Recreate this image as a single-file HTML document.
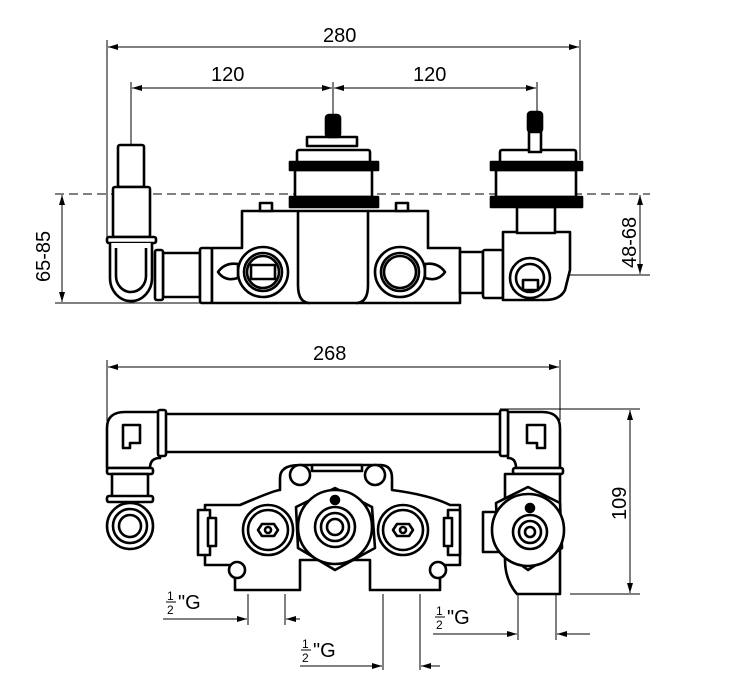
<!DOCTYPE html>
<html><head><meta charset="utf-8"><style>
html,body{margin:0;padding:0;background:#fff;}
svg{display:block;}
text{font-family:"Liberation Sans",sans-serif;fill:#000;}
</style></head><body>
<svg width="729" height="696" viewBox="0 0 729 696" xmlns="http://www.w3.org/2000/svg">
<defs>
<marker id="a" viewBox="0 0 10 6" refX="10" refY="3" markerWidth="10" markerHeight="6" orient="auto-start-reverse"><path d="M0,0L10,3L0,6z" fill="#000"/></marker>
</defs>
<g stroke="#000" stroke-width="1" fill="none">
<line x1="107" y1="40" x2="107" y2="240"/><line x1="580" y1="40" x2="580" y2="160"/>
<line x1="108" y1="47" x2="579" y2="47" marker-start="url(#a)" marker-end="url(#a)"/>
<line x1="131" y1="82" x2="131" y2="150"/><line x1="333" y1="82" x2="333" y2="118"/><line x1="537" y1="82" x2="537" y2="115"/>
<line x1="132" y1="88" x2="332" y2="88" marker-start="url(#a)" marker-end="url(#a)"/>
<line x1="334" y1="88" x2="536" y2="88" marker-start="url(#a)" marker-end="url(#a)"/>
<line x1="55" y1="194" x2="650" y2="194" stroke-dasharray="9,5"/>
<line x1="55" y1="303" x2="200" y2="303"/>
<line x1="62" y1="195" x2="62" y2="302" marker-start="url(#a)" marker-end="url(#a)"/>
<line x1="570" y1="275" x2="650" y2="275"/>
<line x1="640" y1="195" x2="640" y2="274" marker-start="url(#a)" marker-end="url(#a)"/>
<line x1="107" y1="360" x2="107" y2="440"/><line x1="560" y1="360" x2="560" y2="420"/>
<line x1="108" y1="367" x2="559" y2="367" marker-start="url(#a)" marker-end="url(#a)"/>
<line x1="500" y1="409" x2="640" y2="409"/><line x1="570" y1="594" x2="640" y2="594"/>
<line x1="630" y1="410" x2="630" y2="593" marker-start="url(#a)" marker-end="url(#a)"/>
<line x1="248" y1="594" x2="248" y2="625"/><line x1="285" y1="594" x2="285" y2="625"/>
<line x1="163" y1="619" x2="247" y2="619" marker-end="url(#a)"/><line x1="300" y1="619" x2="286" y2="619" marker-end="url(#a)"/>
<line x1="383" y1="594" x2="383" y2="670"/><line x1="420" y1="594" x2="420" y2="670"/>
<line x1="300" y1="666" x2="382" y2="666" marker-end="url(#a)"/><line x1="440" y1="666" x2="421" y2="666" marker-end="url(#a)"/>
<line x1="518" y1="594" x2="518" y2="640"/><line x1="556" y1="594" x2="556" y2="640"/>
<line x1="433" y1="634" x2="517" y2="634" marker-end="url(#a)"/><line x1="590" y1="634" x2="557" y2="634" marker-end="url(#a)"/>
</g>
<g font-size="20">
<text x="323" y="42">280</text><text x="211" y="81">120</text><text x="413" y="81">120</text>
<text x="313" y="360">268</text>
<text transform="translate(50,282) rotate(-90)">65-85</text>
<text transform="translate(636,268) rotate(-90)">48-68</text>
<text transform="translate(626,520) rotate(-90)">109</text>
<text x="178" y="609">"G</text><text x="313" y="657">"G</text><text x="447" y="624">"G</text>
</g>
<g font-size="12">
<text x="167" y="600">1</text><text x="167" y="614">2</text>
<text x="302" y="648">1</text><text x="302" y="662">2</text>
<text x="436" y="615">1</text><text x="436" y="629">2</text>
</g>
<g stroke="#000" stroke-width="1" fill="none">
<line x1="166" y1="602" x2="176" y2="602"/><line x1="301" y1="650" x2="311" y2="650"/><line x1="435" y1="617" x2="445" y2="617"/>
</g>
<g stroke="#000" stroke-width="2.6" fill="#fff" stroke-linejoin="round">
<rect x="118" y="145" width="26" height="42" rx="2"/>
<rect x="113" y="187" width="37" height="50" rx="2"/>
<rect x="107" y="237" width="49" height="6" rx="2"/>
<path d="M110,243 L110,278 A20,22 0 0 0 152,278 L152,243"/>
<path d="M116,248 L116,276 A15,16 0 0 0 146,276 L146,248"/>
<rect x="163" y="253" width="37" height="44"/>
<rect x="155" y="250" width="8" height="50" rx="2"/>
<rect x="200" y="248" width="12" height="55" rx="2"/>
<path d="M212,248 L242,248 L242,211 L428,211 L428,248 L460,248 L460,303 L212,303 Z"/>
<path d="M298,211 L298,285 Q298,303 310,303 M368,211 L368,285 Q368,303 356,303"/>
<rect x="260" y="203" width="12" height="8"/><rect x="396" y="203" width="12" height="8"/>
<circle cx="263" cy="272" r="25"/><circle cx="263" cy="272" r="19"/><circle cx="263" cy="272" r="16"/>
<rect x="251" y="265" width="24" height="14" fill="none"/>
<circle cx="400" cy="272" r="25"/><circle cx="400" cy="272" r="19"/><circle cx="400" cy="272" r="16"/>
<path d="M218,272 Q225,262 238,264 L238,278 Q225,282 218,272Z"/>
<path d="M445,272 Q438,262 425,264 L425,278 Q438,282 445,272Z"/>
<rect x="297" y="150" width="73" height="13" rx="2"/>
<rect x="295" y="170" width="77" height="27"/>
<rect x="307" y="137" width="50" height="9"/>
<rect x="326" y="115" width="14" height="22" rx="3" fill="#000"/>
<rect x="290" y="162" width="88" height="8" fill="#000"/>
<rect x="290" y="197" width="88" height="10" fill="#000"/>
<rect x="460" y="252" width="23" height="41"/>
<rect x="483" y="250" width="20" height="48" rx="2"/>
<path d="M503,232 L570,232 L570,270 L565,290 Q560,300 545,300 L503,300 Z"/>
<rect x="517" y="207" width="38" height="26"/>
<circle cx="530" cy="278" r="20"/><circle cx="530" cy="278" r="14"/>
<rect x="523" y="280" width="15" height="10"/>
<rect x="500" y="150" width="76" height="13" rx="2"/>
<rect x="496" y="170" width="80" height="27"/>
<rect x="529" y="130" width="12" height="22"/>
<rect x="528" y="112" width="14" height="20" rx="3" fill="#000"/>
<rect x="491" y="162" width="91" height="8" fill="#000"/>
<rect x="491" y="197" width="91" height="10" fill="#000"/>
</g>
<g stroke="#000" stroke-width="2.6" fill="#fff" stroke-linejoin="round">
<rect x="165" y="414" width="340" height="38"/>
<path d="M107,468 L107,428 Q107,412 125,412 L160,412 L160,458 Q150,458 150,468 Z"/>
<rect x="158" y="410" width="8" height="46" rx="2"/>
<path d="M123,425 L140,425 L140,443 L130,443 L130,448 L123,448 Z"/>
<rect x="107" y="468" width="46" height="6" rx="2"/>
<rect x="112" y="474" width="36" height="23"/>
<rect x="107" y="496" width="46" height="6" rx="2"/>
<circle cx="130" cy="526" r="23"/><circle cx="130" cy="526" r="17"/><circle cx="130" cy="526" r="11"/>
<path d="M560,468 L560,428 Q560,412 542,412 L508,412 L508,458 Q516,458 516,468 Z"/>
<rect x="500" y="410" width="8" height="46" rx="2"/>
<path d="M527,425 L545,425 L545,448 L537,448 L537,443 L527,443 Z"/>
<rect x="513" y="468" width="50" height="6" rx="2"/>
<path d="M505,474 L560,474 L560,594 L517,594 Q505,580 505,560 Z"/>
<rect x="483" y="512" width="24" height="40"/>
<path d="M205,505 L240,505 Q275,490 280,490 L280,478 Q280,465 300,465 L380,465 Q392,465 392,478 L392,490 Q430,495 450,505 L460,505 L460,565 L440,565 L440,590 L370,590 L370,560 L300,560 L300,590 L235,590 L235,565 L205,565 Z"/>
<circle cx="300" cy="475" r="10"/><circle cx="375" cy="475" r="10"/>
<rect x="312" y="465" width="50" height="6"/>
<rect x="198" y="510" width="12" height="45"/><rect x="208" y="518" width="8" height="28"/>
<rect x="448" y="510" width="12" height="45"/><rect x="444" y="518" width="8" height="28"/>
<circle cx="237" cy="570" r="8"/><circle cx="438" cy="570" r="8"/>
<circle cx="268" cy="530" r="25"/><circle cx="268" cy="530" r="20"/>
<polygon points="262,524 274,524 278,530 274,536 262,536 258,530"/><circle cx="268" cy="530" r="3"/>
<circle cx="403" cy="530" r="25"/><circle cx="403" cy="530" r="20"/>
<polygon points="397,524 409,524 413,530 409,536 397,536 393,530"/><circle cx="403" cy="530" r="3"/>
<polygon points="335,488 372,507 375,548 335,570 298,548 296,507"/>
<circle cx="335" cy="527" r="37"/>
<circle cx="335" cy="527" r="20"/><circle cx="335" cy="527" r="14"/><circle cx="335" cy="527" r="8"/>
<circle cx="335" cy="500" r="4" fill="#000"/>
<polygon points="528,487 560,503 562,548 528,570 498,548 496,503"/>
<circle cx="528" cy="530" r="36"/>
<circle cx="530" cy="532" r="17"/><circle cx="530" cy="532" r="11"/><circle cx="530" cy="532" r="5"/>
<circle cx="530" cy="508" r="4" fill="#000"/>
</g>
</svg>
</body></html>
